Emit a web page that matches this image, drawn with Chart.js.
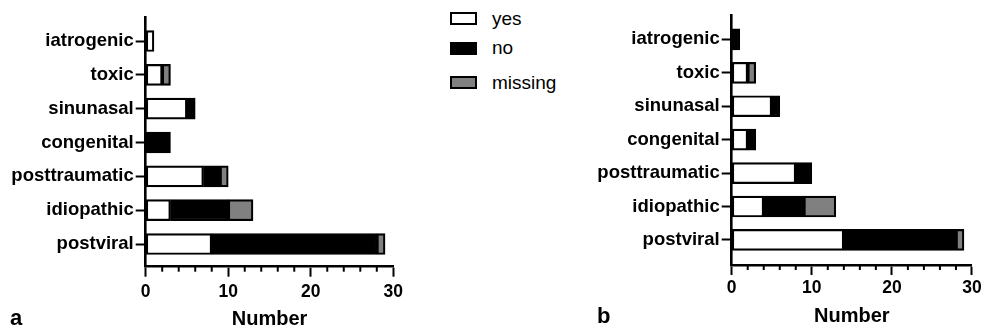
<!DOCTYPE html>
<html>
<head>
<meta charset="utf-8">
<script src="https://cdn.jsdelivr.net/npm/chart.js@4.4.1/dist/chart.umd.min.js"></script>
<style>
  body { margin: 0; background: #fff; }
  #wrap { position: relative; width: 984px; height: 329px; overflow: hidden; font-family: 'Liberation Sans', Arial, sans-serif; }
  canvas { position: absolute; top: 0; }
  #chartA { left: 0; }
  #chartB { left: 590px; }
  .item { position: absolute; left: 450px; height: 22px; display: flex; align-items: center; white-space: nowrap; font-size: 19px; color: #000; }
  .box { width: 27px; height: 13px; box-sizing: border-box; margin-right: 15px; }
  .panel { position: absolute; font-weight: bold; font-size: 22px; line-height: 22px; }
</style>
</head>
<body>
<div id="wrap">
  <canvas id="chartA" width="420" height="329"></canvas>
  <canvas id="chartB" width="394" height="329"></canvas>
  <div id="legend"></div>
  <div class="panel" style="left:10px; top:307px;">a</div>
  <div class="panel" style="left:597px; top:305px;">b</div>
</div>
<script>
const categories = ['iatrogenic', 'toxic', 'sinunasal', 'congenital', 'posttraumatic', 'idiopathic', 'postviral'];
const seriesNames = ['yes', 'no', 'missing'];

// panel a
const yesA = [1, 2, 5, 0, 7, 3, 8];
const noA = [0, 0, 1, 3, 2, 7, 20];
const missingA = [0, 1, 0, 0, 1, 3, 1];

// panel b
const yesB = [0, 2, 5, 2, 8, 4, 14];
const noB = [1, 0, 1, 1, 2, 5, 14];
const missingB = [0, 1, 0, 0, 0, 4, 1];

const xTicks = [0, 10, 20, 30];
const minorStep = 2;

const fills = ['#ffffff', '#000000', '#808080'];

Chart.defaults.font.family = "'Liberation Sans', Arial, sans-serif";
Chart.defaults.color = '#000';

// small ticks between the labelled ones
const minorTicks = {
  id: 'minorTicks',
  afterDraw(chart) {
    const x = chart.scales.x;
    const ctx = chart.ctx;
    const bottom = chart.chartArea.bottom;
    ctx.save();
    ctx.strokeStyle = '#000';
    ctx.lineWidth = 2;
    for (let v = x.min; v <= x.max; v += minorStep) {
      if (xTicks.includes(v)) continue;
      const px = x.getPixelForValue(v);
      ctx.beginPath();
      ctx.moveTo(px, bottom);
      ctx.lineTo(px, bottom + 5);
      ctx.stroke();
    }
    ctx.restore();
  }
};

function makeChart(id, series, geo) {
  const datasets = series.map((values, i) => ({
    label: seriesNames[i],
    data: values.map((v, k) => ({ x: v, y: k })),
    backgroundColor: fills[i],
    borderColor: '#000',
    borderWidth: 2.2,
    borderSkipped: false,
    barThickness: 21
  }));

  return new Chart(document.getElementById(id), {
    type: 'bar',
    data: { datasets },
    plugins: [minorTicks],
    options: {
      indexAxis: 'y',
      responsive: false,
      animation: false,
      devicePixelRatio: 1,
      layout: {
        autoPadding: false,
        padding: { top: geo.top, right: geo.right, left: 0, bottom: 0 }
      },
      plugins: { legend: { display: false }, tooltip: { enabled: false } },
      scales: {
        x: {
          type: 'linear',
          stacked: true,
          bounds: 'data',
          offset: false,
          min: 0,
          max: 30,
          afterBuildTicks: s => { s.ticks = xTicks.map(v => ({ value: v })); s.min = 0; s.max = 30; },
          afterFit: s => { s.height = geo.xHeight; },
          grid: { offset: false, drawOnChartArea: false, tickLength: 10, tickColor: '#000', tickWidth: 2 },
          border: { color: '#000', width: 2.6 },
          ticks: { font: { size: 17.5, weight: 'bold' }, padding: geo.tickPad, maxRotation: 0 },
          title: {
            display: true,
            text: 'Number',
            font: { size: 20, weight: 'bold', lineHeight: 1 },
            padding: { top: 0, bottom: geo.titlePad }
          }
        },
        y: {
          type: 'linear',
          stacked: true,
          reverse: true,
          bounds: 'data',
          offset: false,
          min: geo.yMin,
          max: geo.yMax,
          afterBuildTicks: s => {
            s.ticks = categories.map((c, i) => ({ value: i }));
            s.min = geo.yMin;
            s.max = geo.yMax;
          },
          afterFit: s => { s.width = geo.yWidth; },
          grid: { offset: false, drawOnChartArea: false, tickLength: 10, tickColor: '#000', tickWidth: 2 },
          border: { color: '#000', width: 2.6 },
          ticks: {
            autoSkip: false,
            padding: 2,
            font: { size: 18.5, weight: 'bold' },
            callback: v => categories[v]
          }
        }
      }
    }
  });
}

makeChart('chartA', [yesA, noA, missingA], {
  top: 17, right: 26.7, yWidth: 145.7, xHeight: 62.3,
  yMin: -0.71, yMax: 6.67, tickPad: 4.5, titlePad: 0
});

makeChart('chartB', [yesB, noB, missingB], {
  top: 15, right: 8.3, yWidth: 141.7, xHeight: 64,
  yMin: -0.73, yMax: 6.75, tickPad: 2.3, titlePad: 3
});

// legend shared by both panels
const legendTops = [7.5, 37, 71.5];
const legend = document.getElementById('legend');
seriesNames.forEach((name, i) => {
  const item = document.createElement('div');
  item.className = 'item';
  item.style.top = legendTops[i] + 'px';
  const box = document.createElement('span');
  box.className = 'box';
  box.style.background = fills[i];
  box.style.border = '2px solid #000';
  item.appendChild(box);
  item.appendChild(document.createTextNode(name));
  legend.appendChild(item);
});
</script>
</body>
</html>
